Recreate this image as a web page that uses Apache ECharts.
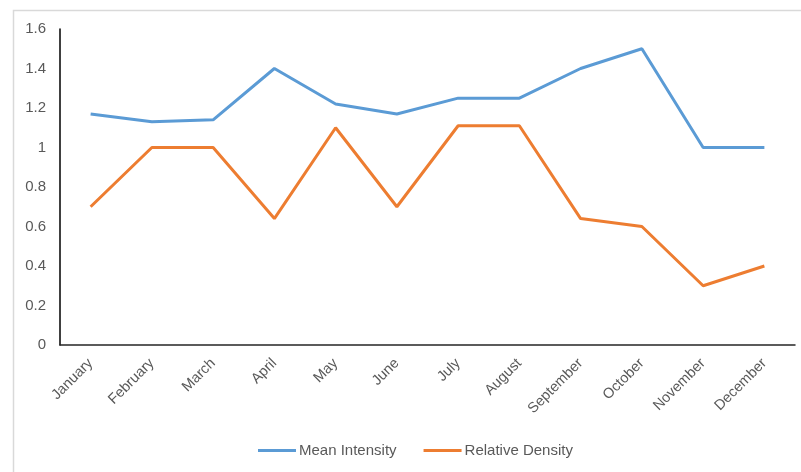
<!DOCTYPE html>
<html>
<head>
<meta charset="utf-8">
<script src="https://cdn.jsdelivr.net/npm/echarts@6/dist/echarts.min.js"></script>
<style>html,body{margin:0;padding:0;background:#fff}#c{width:801px;height:472px}</style>
</head>
<body>
<div id="c"></div>
<script>
var categories = ['January','February','March','April','May','June','July','August','September','October','November','December'];
var meanIntensity = [1.17,1.13,1.14,1.40,1.22,1.17,1.25,1.25,1.40,1.50,1.00,1.00];
var relativeDensity = [0.70,1.00,1.00,0.64,1.10,0.70,1.11,1.11,0.64,0.60,0.30,0.40];
var yTicks = ['0','0.2','0.4','0.6','0.8','1','1.2','1.4','1.6'];

var chart = echarts.init(document.getElementById('c'), null, {renderer:'canvas'});
var font = '"Liberation Sans", "Open Sans", sans-serif';
chart.setOption({
  animation: false,
  backgroundColor: '#fff',
  graphic: [{
    type: 'rect', left: 11, top: 8, silent: true,
    shape: {x: 0, y: 0, width: 800, height: 470},
    style: {fill: 'none', stroke: '#D9D9D9', lineWidth: 1.5}
  }],
  grid: {left: 60, right: 6, top: 29, bottom: 127},
  legend: {
    top: 438, left: 253,
    itemWidth: 38, itemHeight: 3, itemGap: 27,
    icon: 'rect',
    textStyle: {color: '#595959', fontSize: 15, fontFamily: font, padding: [0,0,0,-2]},
    data: ['Mean Intensity','Relative Density']
  },
  xAxis: {
    type: 'category', data: categories, boundaryGap: true,
    axisLine: {show: true, lineStyle: {color: '#262626', width: 1.5}},
    axisTick: {show: false},
    axisLabel: {rotate: 45, color: '#595959', fontSize: 14.5, fontFamily: font, interval: 0, margin: 16}
  },
  yAxis: {
    type: 'value', min: 0, max: 1.6, interval: 0.2,
    axisLine: {show: true, lineStyle: {color: '#000', width: 1.5}},
    axisTick: {show: false},
    splitLine: {show: false},
    axisLabel: {
      color: '#595959', fontSize: 15, fontFamily: font, margin: 14,
      formatter: function(v){ return yTicks[Math.round(v/0.2)]; }
    }
  },
  series: [{
    name: 'Mean Intensity', type: 'line', data: meanIntensity,
    symbol: 'none', lineStyle: {color: '#5B9BD5', width: 3}, itemStyle: {color: '#5B9BD5'}
  },{
    name: 'Relative Density', type: 'line', data: relativeDensity,
    symbol: 'none', lineStyle: {color: '#ED7D31', width: 3}, itemStyle: {color: '#ED7D31'}
  }]
});
</script>
</body>
</html>
